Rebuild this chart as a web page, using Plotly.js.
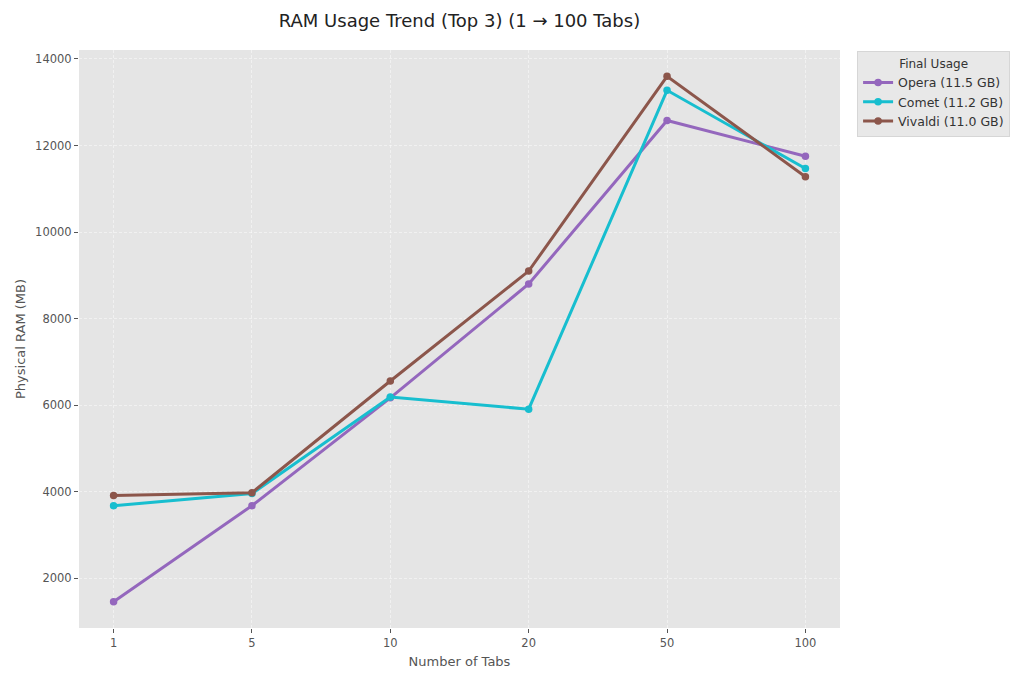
<!DOCTYPE html>
<html>
<head>
<meta charset="utf-8">
<script src="https://cdn.plot.ly/plotly-3.0.1.min.js"></script>
<style>
  html, body { margin: 0; padding: 0; background: #ffffff; }
  #chart { width: 1024px; height: 683px; }
</style>
</head>
<body>
<div id="chart"></div>
<script>
// tab counts on the x axis (categorical)
var tabCounts = ["1", "5", "10", "20", "50", "100"];

// physical RAM in MB
var operaRam = [1458, 3680, 6170, 8800, 12577, 11753];
var cometRam = [3680, 3958, 6190, 5908, 13276, 11469];
var vivaldiRam = [3912, 3980, 6560, 9100, 13599, 11278];

var seriesNames = ["Opera (11.5 GB)", "Comet (11.2 GB)", "Vivaldi (11.0 GB)"];
var seriesColors = ["#9467bd", "#17becf", "#8c564b"];

var yTicks = [2000, 4000, 6000, 8000, 10000, 12000, 14000];

function makeTrace(name, values, color)
{
    return {
        x: tabCounts,
        y: values,
        name: name,
        type: "scatter",
        mode: "lines+markers",
        line: { color: color, width: 3 },
        marker: { color: color, size: 7.5 }
    };
}

var plotData = [
    makeTrace(seriesNames[0], operaRam, seriesColors[0]),
    makeTrace(seriesNames[1], cometRam, seriesColors[1]),
    makeTrace(seriesNames[2], vivaldiRam, seriesColors[2])
];

var tickFont = { family: "DejaVu Sans, sans-serif", size: 11.5, color: "#555555" };
var labelFont = { family: "DejaVu Sans, sans-serif", size: 13, color: "#555555" };

var layout =
{
    width: 1024,
    height: 683,
    margin: { l: 79, r: 184, t: 50, b: 55 },
    paper_bgcolor: "#ffffff",
    plot_bgcolor: "#e5e5e5",
    font: { family: "DejaVu Sans, sans-serif", color: "#555555" },
    title: {
        text: "RAM Usage Trend (Top 3) (1 \u2192 100 Tabs)",
        font: { family: "DejaVu Sans, sans-serif", size: 18, color: "#222222" },
        x: 0.4487, xanchor: "center",
        y: 0.97, yanchor: "middle"
    },
    xaxis: {
        type: "category",
        range: [-0.25, 5.25],
        tickfont: tickFont,
        ticks: "outside", ticklen: 4, tickcolor: "#555555",
        showgrid: true, gridcolor: "rgba(255,255,255,0.65)", griddash: "3px,2px", gridwidth: 0.7,
        zeroline: false, showline: false,
        title: { text: "Number of Tabs", font: labelFont, standoff: 8 }
    },
    yaxis: {
        range: [853, 14207],
        tickvals: yTicks,
        ticktext: yTicks.map(String),
        tickfont: tickFont,
        ticks: "outside", ticklen: 4, tickcolor: "#555555",
        showgrid: true, gridcolor: "rgba(255,255,255,0.65)", griddash: "3px,2px", gridwidth: 0.7,
        zeroline: false, showline: false,
        title: { text: "Physical RAM (MB)", font: labelFont, standoff: 6 }
    },
    legend: {
        xref: "container", yref: "container",
        x: 0.837, xanchor: "left",
        y: 0.925, yanchor: "top",
        bgcolor: "#e8e8e8",
        bordercolor: "#d6d6d6",
        borderwidth: 1,
        font: { family: "DejaVu Sans, sans-serif", size: 12.5, color: "#333333" },
        title: { text: "Final Usage", side: "top center", font: { family: "DejaVu Sans, sans-serif", size: 12, color: "#333333" } },
        tracegroupgap: 0,
        itemwidth: 30
    },
    showlegend: true
};

var config = { staticPlot: true, displayModeBar: false };

Plotly.newPlot("chart", plotData, layout, config);
</script>
</body>
</html>
